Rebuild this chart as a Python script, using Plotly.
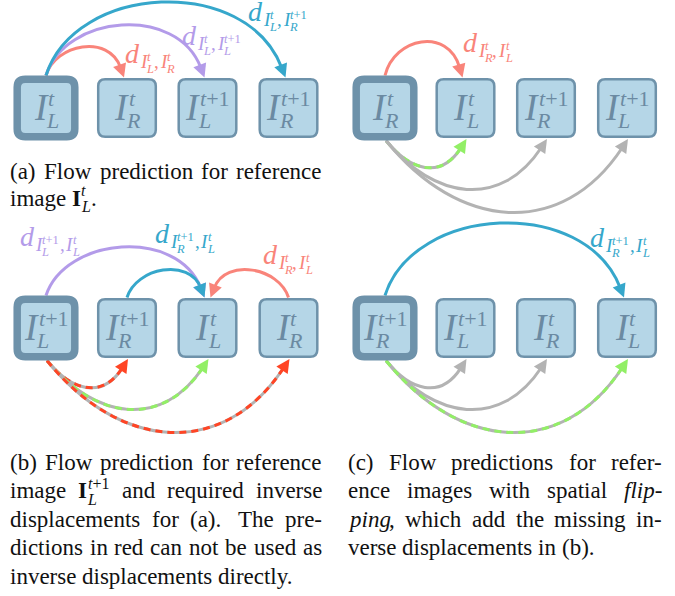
import math
import re
import plotly.graph_objects as go

W, H = 675, 596
SERIF = "Liberation Serif"

BOX_FILL = "#b5d6e7"
BOX_LINE = "#6e92aa"
BOX_TEXT = "#6b8aa2"
SALMON = "#f9847a"
PURPLE = "#b39be9"
BLUE = "#36a7cb"
GRAY = "#b3b3b3"
GREEN = "#92ef66"
RED = "#ff4525"
INK = "#111111"

# ---------------- data ----------------
COL_X_LEFT = [46, 127, 207.5, 288.5]
COL_X_RIGHT = [385, 465.5, 546, 627]
ROW_Y = [108, 328]

PANEL_COLS = {"a": COL_X_LEFT, "c1": COL_X_RIGHT, "b": COL_X_LEFT, "c2": COL_X_RIGHT}
PANEL_ROW = {"a": 0, "c1": 0, "b": 1, "c2": 1}

# node labels: (subscript, superscript) of I; node 0 is the reference image (bold box)
NODES_A = [("L", "t"), ("R", "t"), ("L", "t+1"), ("R", "t+1")]
NODES_C1 = [("R", "t"), ("L", "t"), ("R", "t+1"), ("L", "t+1")]
NODES_B = [("L", "t+1"), ("R", "t+1"), ("L", "t"), ("R", "t")]
NODES_C2 = [("R", "t+1"), ("L", "t+1"), ("R", "t"), ("L", "t")]
PANEL_NODES = {"a": NODES_A, "c1": NODES_C1, "b": NODES_B, "c2": NODES_C2}

# arcs: panel, source node, target node, side, extreme y of the curve, colour, dash colour
ARCS = [
    ("a", 0, 1, "top", 52, SALMON, None),
    ("a", 0, 2, "top", 30, PURPLE, None),
    ("a", 0, 3, "top", 7, BLUE, None),
    ("c1", 0, 1, "top", 47, SALMON, None),
    ("c1", 0, 1, "bottom", 163, GRAY, GREEN),
    ("c1", 0, 2, "bottom", 185, GRAY, None),
    ("c1", 0, 3, "bottom", 208, GRAY, None),
    ("b", 0, 2, "top", 252, PURPLE, None),
    ("b", 1, 2, "top", 275, BLUE, None),
    ("b", 3, 2, "top", 275, SALMON, None),
    ("b", 0, 1, "bottom", 383, GRAY, RED),
    ("b", 0, 2, "bottom", 405, GRAY, GREEN),
    ("b", 0, 3, "bottom", 428, GRAY, RED),
    ("c2", 0, 3, "top", 228, BLUE, None),
    ("c2", 0, 1, "bottom", 383, GRAY, None),
    ("c2", 0, 2, "bottom", 405, GRAY, None),
    ("c2", 0, 3, "bottom", 428, GRAY, GREEN),
]

# displacement labels d_{I_a^b, I_c^d}: left x, baseline y, the two image indices, colour
D_LABEL_X = [125, 182, 248, 463, 20, 155, 263, 590]
D_LABEL_Y = [63, 45, 21, 52, 246, 243, 264, 247]
D_LABEL_SUBS = [
    [("L", "t"), ("R", "t")],
    [("L", "t"), ("L", "t+1")],
    [("L", "t"), ("R", "t+1")],
    [("R", "t"), ("L", "t")],
    [("L", "t+1"), ("L", "t")],
    [("R", "t+1"), ("L", "t")],
    [("R", "t"), ("L", "t")],
    [("R", "t+1"), ("L", "t")],
]
D_LABEL_COLOR = [SALMON, PURPLE, BLUE, SALMON, PURPLE, BLUE, SALMON, BLUE]

CAPTION_A = ["(a) Flow prediction for reference", "image \\I{t}."]
CAPTION_B = ["(b) Flow prediction for reference",
             "image \\I{t+1} and required inverse",
             "displacements for (a). The pre-",
             "dictions in red can not be used as",
             "inverse displacements directly."]
CAPTION_C = ["(c) Flow predictions for refer-",
             "ence images with spatial *flip-*",
             "*ping*, which add the missing in-",
             "verse displacements in (b)."]
CAPTIONS = [(CAPTION_A, 10, 322, 179, 27), (CAPTION_B, 10, 322, 470, 28.5),
            (CAPTION_C, 348, 662, 470, 28.5)]

# ---------------- font metrics (Times-compatible) ----------------
ROMAN_W = dict(zip("abcdefghijklmnopqrstuvwxyz",
                   [444, 500, 444, 500, 444, 333, 500, 500, 278, 278, 500, 278, 778,
                    500, 500, 500, 500, 333, 389, 278, 500, 500, 722, 500, 500, 444]))
ROMAN_W.update({"F": 556, "T": 611, "I": 333, "L": 611, "R": 667, "(": 333, ")": 333,
                ".": 250, ",": 250, "-": 333, " ": 250, "+": 564, "1": 500})
ITALIC_W = dict(ROMAN_W)
ITALIC_W.update({"f": 278, "l": 278, "i": 278, "p": 500, "n": 500, "g": 500, "t": 278,
                 "I": 333, "L": 556, "R": 611, "-": 333, "d": 500, "+": 675})


def width(s, size, italic=False):
    tbl = ITALIC_W if italic else ROMAN_W
    return sum(tbl.get(ch, 500) for ch in s) / 1000.0 * size


annotations = []


def put(x, baseline, text, size, color, anchor="left"):
    annotations.append(dict(
        x=x, y=baseline - 0.3375 * size, xref="x", yref="y", text=text,
        showarrow=False, xanchor=anchor, yanchor="middle", borderpad=0, borderwidth=0,
        font=dict(family=SERIF, size=size, color=color)))


def sup_html(s):
    return "<i>t</i>" + s[1:] if s.startswith("t") else s


def sup_width(s, size):
    return width("t", size, True) + width(s[1:], size)


def math_I(x, baseline, sub, sup, size, ssize, color, sup_dy, sub_dy, draw=True):
    wI = width("I", size, True)
    ws = sup_width(sup, ssize)
    wb = width(sub, ssize, True)
    if draw:
        put(x, baseline, "<i>I</i>", size, color)
        put(x + wI + 0.06 * size, baseline - sup_dy, sup_html(sup), ssize, color)
        put(x + wI, baseline + sub_dy, "<i>%s</i>" % sub, ssize, color)
    return wI + max(ws + 0.06 * size, wb)


# ---------------- boxes ----------------
def rrect(cx, cy, half, r):
    x0, x1, y0, y1 = cx - half, cx + half, cy - half, cy + half
    return (f"M{x0 + r},{y0} L{x1 - r},{y0} Q{x1},{y0} {x1},{y0 + r} L{x1},{y1 - r} "
            f"Q{x1},{y1} {x1 - r},{y1} L{x0 + r},{y1} Q{x0},{y1} {x0},{y1 - r} "
            f"L{x0},{y0 + r} Q{x0},{y0} {x0 + r},{y0} Z")


box_shapes = []
for pid, nodes in PANEL_NODES.items():
    cols = PANEL_COLS[pid]
    cy = ROW_Y[PANEL_ROW[pid]]
    for i, (sub, sup) in enumerate(nodes):
        cx = cols[i]
        if i == 0:
            box_shapes.append(dict(type="path", path=rrect(cx, cy, 28.8, 8),
                                   fillcolor=BOX_FILL, line=dict(color=BOX_LINE, width=7.5)))
        else:
            box_shapes.append(dict(type="path", path=rrect(cx, cy, 28.8, 7),
                                   fillcolor=BOX_FILL, line=dict(color=BOX_LINE, width=2.5)))
        wtot = math_I(0, 0, sub, sup, 37, 22, BOX_TEXT, 14, 8, draw=False)
        math_I(cx - wtot / 2, cy + 12, sub, sup, 37, 22, BOX_TEXT, 14, 8)

# ---------------- arcs ----------------
arc_shapes = []
head_shapes = []
for pid, s, t, side, ext, color, dcol in ARCS:
    cols = PANEL_COLS[pid]
    cy = ROW_Y[PANEL_ROW[pid]]
    xs, xt = cols[s], cols[t]
    sgn = 1 if xt > xs else -1
    if side == "top":
        p0 = (xs, cy - (32.5 if s == 0 else 30.5))
        tip = (xt - 3 * sgn, cy - 30.5)
        a, b = 0.12, 0.15
    else:
        p0 = (xs + 1, cy + 32.5)
        tip = (xt + 1, cy + 31)
        a, b = 0.3, 0.25
    dx = tip[0] - p0[0]
    c = (ext - 0.125 * (p0[1] + tip[1])) / 0.75
    p1 = (p0[0] + a * dx, c)
    p2 = (tip[0] - b * dx, c)
    ux, uy = tip[0] - p2[0], tip[1] - p2[1]
    n = math.hypot(ux, uy)
    ux, uy = ux / n, uy / n
    L, HW = 13.5, 6.8
    cut = L - 3
    end = (tip[0] - ux * cut, tip[1] - uy * cut)
    p2s = (p2[0] - ux * cut, p2[1] - uy * cut)
    path = (f"M{p0[0]},{p0[1]} C{p1[0]},{p1[1]} {p2s[0]},{p2s[1]} {end[0]},{end[1]}")
    arc_shapes.append(dict(type="path", path=path, line=dict(color=color, width=3)))
    if dcol:
        arc_shapes.append(dict(type="path", path=path,
                               line=dict(color=dcol, width=3, dash="7px,5px")))
    bx, by = tip[0] - ux * L, tip[1] - uy * L
    nx, ny = -uy, ux
    tri = (f"M{tip[0]},{tip[1]} L{bx + nx * HW},{by + ny * HW} "
           f"L{bx - nx * HW},{by - ny * HW} Z")
    head_shapes.append(dict(type="path", path=tri, fillcolor=dcol or color,
                            line=dict(width=0)))

shapes = arc_shapes + box_shapes + head_shapes

# ---------------- displacement labels ----------------
for lx, ly, subs, col in zip(D_LABEL_X, D_LABEL_Y, D_LABEL_SUBS, D_LABEL_COLOR):
    put(lx, ly, "<i>d</i>", 28, col)
    x = lx + width("d", 28, True) + 1
    for k, (sb, sp) in enumerate(subs):
        if k == 1:
            put(x, ly + 5, ",", 19, col)
            x += width(",", 19) + 1
        x += math_I(x, ly + 5, sb, sp, 19, 12.5, col, 7, 5) + 0.5

# ---------------- captions ----------------
SEG_RE = re.compile(r"\\I\{([^}]*)\}|\*([^*]+)\*|([^*\\]+)")


def parse_word(word):
    segs = []
    for m in SEG_RE.finditer(word):
        if m.group(1) is not None:
            segs.append(("math", m.group(1)))
        elif m.group(2) is not None:
            segs.append(("i", m.group(2)))
        else:
            segs.append(("r", m.group(3)))
    return segs


CAP = 23


def seg_width(kind, txt):
    if kind == "math":
        return width("I", CAP) * 1.17 + max(sup_width(txt, 16), width("L", 16, True)) + 1
    return width(txt, CAP, kind == "i")


def draw_word(x, base, segs):
    for kind, txt in segs:
        if kind == "math":
            wI = width("I", CAP) * 1.17
            put(x, base, "<b>I</b>", CAP, INK)
            put(x + wI + 0.5, base - 10, sup_html(txt), 16, INK)
            put(x + wI, base + 6, "<i>L</i>", 16, INK)
        elif kind == "i":
            put(x, base, "<i>%s</i>" % txt, CAP, INK)
        else:
            put(x, base, txt, CAP, INK)
        x += seg_width(kind, txt)


for lines, x0, x1, base0, step in CAPTIONS:
    for li, line in enumerate(lines):
        base = base0 + li * step
        words = [parse_word(w) for w in line.split(" ")]
        widths = [sum(seg_width(k, t) for k, t in w) for w in words]
        last = li == len(lines) - 1
        weights = [1.5 if w[-1][1].endswith(".") else 1.0 for w in words[:-1]]
        if last:
            gaps = [width(" ", CAP)] * (len(words) - 1)
        else:
            extra = (x1 - x0) - sum(widths)
            unit = extra / sum(weights)
            gaps = [unit * wt for wt in weights]
        x = x0
        for i, w in enumerate(words):
            draw_word(x, base, w)
            x += widths[i] + (gaps[i] if i < len(gaps) else 0)

fig = go.Figure(go.Scatter(x=[], y=[], hoverinfo="skip", showlegend=False))
fig.update_layout(
    width=W, height=H, margin=dict(l=0, r=0, t=0, b=0),
    paper_bgcolor="white", plot_bgcolor="white",
    xaxis=dict(range=[0, W], visible=False, fixedrange=True),
    yaxis=dict(range=[H, 0], visible=False, fixedrange=True),
    shapes=shapes, annotations=annotations, showlegend=False,
)
fig.write_html("out.html", config={"displayModeBar": False},
               post_script="document.body.style.margin='0px';")
